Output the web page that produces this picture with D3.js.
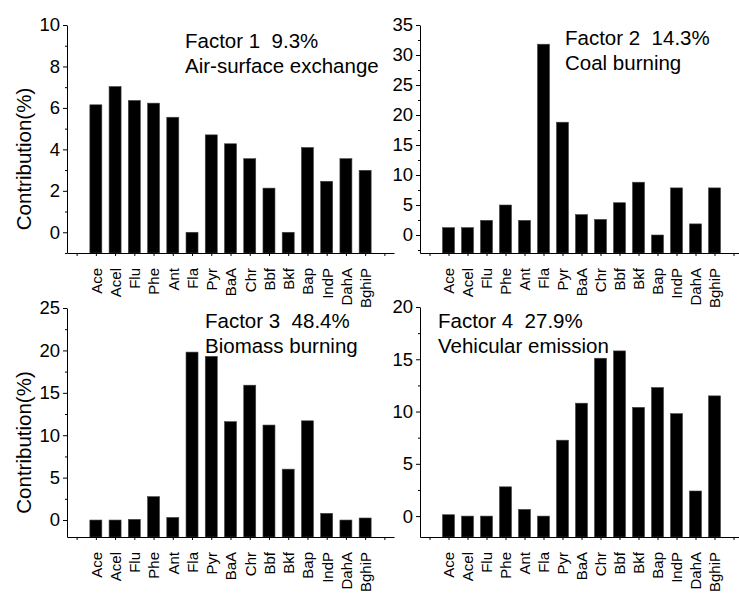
<!DOCTYPE html>
<html>
<head>
<meta charset="utf-8">
<script src="https://cdn.jsdelivr.net/npm/d3@7"></script>
<style>
  body { margin: 0; background: #fff; }
  svg text { font-family: "Liberation Sans", Arial, sans-serif; fill: #000; white-space: pre; }
</style>
</head>
<body>
<div id="chart"></div>
<script>
// PAH names on the x axis
const pahs = ["Ace", "Acel", "Flu", "Phe", "Ant", "Fla", "Pyr", "BaA", "Chr", "Bbf", "Bkf", "Bap", "IndP", "DahA", "BghiP"];

// factor contributions (%)
const factor1 = [6.15, 7.03, 6.36, 6.23, 5.55, 0, 4.70, 4.27, 3.55, 2.13, 0, 4.09, 2.46, 3.55, 2.99];
const factor2 = [1.23, 1.23, 2.44, 5.0, 2.44, 31.8, 18.8, 3.4, 2.6, 5.38, 8.8, 0, 7.85, 1.85, 7.85];
const factor3 = [0, 0, 0.08, 2.76, 0.31, 19.8, 19.3, 11.6, 15.9, 11.2, 6.0, 11.7, 0.79, 0, 0.24];
const factor4 = [0.13, 0, 0, 2.8, 0.64, 0, 7.26, 10.8, 15.1, 15.8, 10.4, 12.3, 9.8, 2.4, 11.5];

const titles = ["Factor 1  9.3%", "Factor 2  14.3%", "Factor 3  48.4%", "Factor 4  27.9%"];
const sources = ["Air-surface exchange", "Coal burning", "Biomass burning", "Vehicular emission"];

// y domains and tick steps per panel
const yDomains = [[-1, 10], [-3, 35], [-2, 25], [-2, 20]];
const yMajor = [2, 5, 5, 5];

const width = 739, height = 594;

const svg = d3.select("#chart")
    .append("svg")
    .attr("width", width)
    .attr("height", height);

// panel boxes: left, right, top, bottom of the plot area
const panels = [
    { x0: 67, x1: 394, y0: 25, y1: 253, data: factor1, title: [185, 48], ylab: true },
    { x0: 420, x1: 743, y0: 25, y1: 253, data: factor2, title: [565, 45], ylab: false },
    { x0: 67, x1: 394, y0: 308, y1: 537, data: factor3, title: [205, 328], ylab: true },
    { x0: 420, x1: 743, y0: 307, y1: 537, data: factor4, title: [438, 328], ylab: false }
];

panels.forEach((p, i) => {
    const g = svg.append("g");

    var x = d3.scaleLinear()
        .domain([-0.5, pahs.length + 1.5])
        .range([p.x0, p.x1]);

    var y = d3.scaleLinear()
        .domain(yDomains[i])
        .range([p.y1, p.y0]);

    const step = yMajor[i];
    const top = yDomains[i][1];
    const majors = d3.range(0, top + 0.001, step);
    const minors = d3.range(-step / 2, top, step).filter(v => v >= yDomains[i][0]);

    // bars start at the bottom of the axis
    g.selectAll("rect")
        .data(p.data)
        .join("rect")
        .attr("x", (d, j) => x(j + 1) - 6)
        .attr("width", 12)
        .attr("y", d => y(d))
        .attr("height", d => y(yDomains[i][0]) - y(d))
        .attr("fill", "#000")
        .attr("stroke", "#444")
        .attr("stroke-width", 0.6);

    // minor y ticks
    g.append("g")
        .attr("transform", "translate(" + p.x0 + ",0)")
        .call(d3.axisLeft(y).tickValues(minors).tickSize(2).tickFormat(""))
        .call(a => a.select(".domain").remove());

    // major y axis
    g.append("g")
        .attr("transform", "translate(" + p.x0 + ",0)")
        .call(d3.axisLeft(y).tickValues(majors).tickSize(4).tickSizeOuter(0).tickPadding(3).tickFormat(d3.format("d")))
        .call(a => a.selectAll("text").style("font-size", "18.5px"));

    // x axis with rotated labels
    const xa = g.append("g")
        .attr("transform", "translate(0," + p.y1 + ")")
        .call(d3.axisBottom(x)
            .tickValues(d3.range(0, pahs.length + 2))
            .tickSize(3)
            .tickSizeOuter(0)
            .tickFormat(d => pahs[d - 1] || ""));
    xa.selectAll("text")
        .attr("transform", "rotate(-90)")
        .attr("x", -15)
        .attr("y", 0)
        .attr("dy", "0.36em")
        .attr("text-anchor", "end")
        .style("font-size", "15px");

    g.selectAll("path.domain, line").attr("stroke", "#000");

    // annotation
    g.append("text")
        .attr("x", p.title[0])
        .attr("y", p.title[1])
        .style("font-size", "20.5px")
        .text(titles[i]);
    g.append("text")
        .attr("x", p.title[0])
        .attr("y", p.title[1] + 25)
        .style("font-size", "20.5px")
        .text(sources[i]);

    if (p.ylab) {
        g.append("text")
            .attr("transform", "translate(31," + ((p.y0 + p.y1) / 2 + 20) + ") rotate(-90)")
            .attr("text-anchor", "middle")
            .style("font-size", "20.5px")
            .text("Contribution(%)");
    }
});
</script>
</body>
</html>
